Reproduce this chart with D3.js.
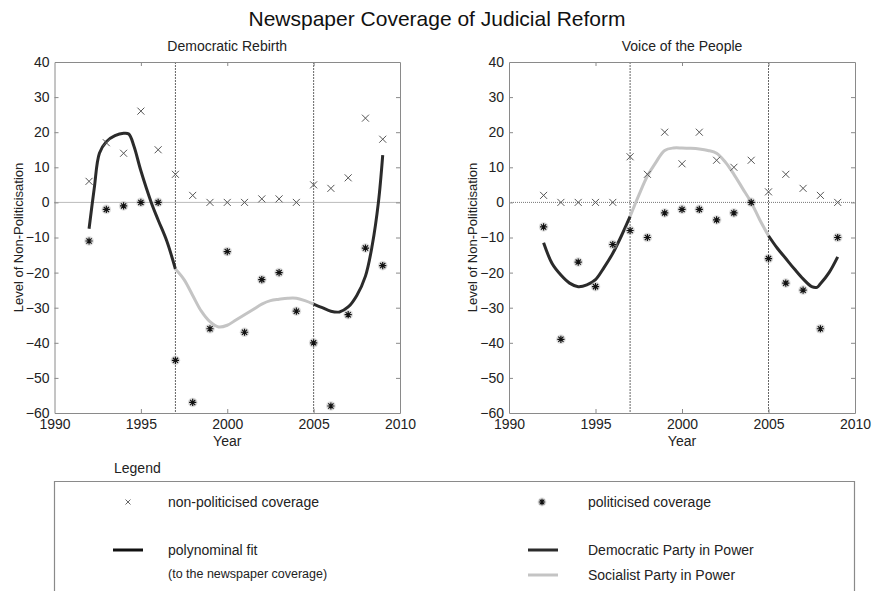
<!DOCTYPE html>
<html><head><meta charset="utf-8">
<script src="https://cdn.jsdelivr.net/npm/d3@7/dist/d3.min.js"></script>
<style>body{margin:0;background:#fff}svg{display:block;font-family:"Liberation Sans",Arial,sans-serif}</style>
</head><body><svg id="c" width="877" height="591"></svg>
<script>
const years = [1992,1993,1994,1995,1996,1997,1998,1999,2000,2001,2002,2003,2004,2005,2006,2007,2008,2009];
const demNonPol = [6,17,14,26,15,8,2,0,0,0,1,1,0,5,4,7,24,18];
const demPol = [-11,-2,-1,0,0,-45,-57,-36,-14,-37,-22,-20,-31,-40,-58,-32,-13,-18];
const voiceNonPol = [2,0,0,0,0,13,8,20,11,20,12,10,12,3,8,4,2,0];
const voicePol = [-7,-39,-17,-24,-12,-8,-10,-3,-2,-2,-5,-3,0,-16,-23,-25,-36,-10];

// polynomial fit (year, value), split by party in power
const demFitYears1 = [1992,1992.3,1992.6,1993,1993.5,1994,1994.3,1994.6,1995,1995.6,1996,1996.5,1997];
const demFitVals1  = [-7.5,4,14,17.3,19,19.7,19.5,16,9,0,-5,-11,-19];
const demFitYears2 = [1997,1997.5,1998,1998.5,1999,1999.5,2000,2000.5,2001,2001.5,2002,2002.5,2003,2003.5,2004,2004.5,2005];
const demFitVals2  = [-19,-22,-26.5,-31,-34,-35.5,-35,-33.5,-32,-30.5,-29,-28,-27.6,-27.3,-27.3,-28,-29];
const demFitYears3 = [2005,2005.5,2006,2006.5,2007,2007.5,2008,2008.4,2008.75,2009];
const demFitVals3  = [-29,-30,-31,-31.2,-29.8,-26.5,-21,-12,0,13.5];
const voiceFitYears1 = [1992,1992.5,1993,1993.5,1994,1994.5,1995,1995.5,1996,1996.5,1997];
const voiceFitVals1  = [-11.5,-17.5,-20.7,-23,-24,-23.5,-22,-18.5,-14.5,-9.5,-4];
const voiceFitYears2 = [1997,1997.5,1998,1998.5,1999,1999.5,2000,2000.5,2001,2001.5,2002,2002.5,2003,2003.5,2004,2004.5,2005];
const voiceFitVals2  = [-4,2,7.5,11.5,14.8,15.5,15.5,15.4,15.2,14.8,14,11.5,8,4,0,-5,-9.5];
const voiceFitYears3 = [2005,2005.5,2006,2006.5,2007,2007.5,2007.8,2008,2008.5,2009];
const voiceFitVals3  = [-9.5,-13,-16,-19,-21.8,-24,-24.2,-23.2,-20,-15.5];

const xTicks = [1990,1995,2000,2005,2010];
const yTicks = [-60,-50,-40,-30,-20,-10,0,10,20,30,40];
const governmentChanges = [1997,2005];
const titles = ["Democratic Rebirth","Voice of the People"];

const DARK = "#2b2b2b", LIGHT = "#c4c4c4";
const svg = d3.select("#c");
svg.append("rect").attr("width",877).attr("height",591).attr("fill","#fff");

svg.append("text").attr("x",437).attr("y",26).attr("text-anchor","middle")
  .attr("font-size",21).attr("fill","#111").text("Newspaper Coverage of Judicial Reform");

function zip(a,b){return a.map((v,i)=>[v,b[i]]);}

const panels = [
  {x0:54.5,x1:400,title:titles[0],nonPol:demNonPol,pol:demPol,
   fits:[[zip(demFitYears1,demFitVals1),DARK],[zip(demFitYears2,demFitVals2),LIGHT],[zip(demFitYears3,demFitVals3),DARK]]},
  {x0:509,x1:855,title:titles[1],nonPol:voiceNonPol,pol:voicePol,
   fits:[[zip(voiceFitYears1,voiceFitVals1),DARK],[zip(voiceFitYears2,voiceFitVals2),LIGHT],[zip(voiceFitYears3,voiceFitVals3),DARK]]}
];

const y = d3.scaleLinear().domain([-60,40]).range([413,62]);

function drawX(g,cx,cy,s,col){
  g.append("path").attr("d",`M${cx-s},${cy-s}L${cx+s},${cy+s}M${cx-s},${cy+s}L${cx+s},${cy-s}`)
   .attr("stroke",col).attr("stroke-width",1).attr("fill","none");
}
function drawStar(g,cx,cy,s){
  g.append("circle").attr("cx",cx).attr("cy",cy).attr("r",s+1.2).attr("fill","#bbb").attr("opacity",0.5);
  const d = s*0.72;
  g.append("path").attr("d",`M${cx},${cy-s}L${cx},${cy+s}M${cx-s},${cy}L${cx+s},${cy}M${cx-d},${cy-d}L${cx+d},${cy+d}M${cx-d},${cy+d}L${cx+d},${cy-d}`)
   .attr("stroke","#111").attr("stroke-width",1.2).attr("fill","none");
}

panels.forEach(p=>{
  const x = d3.scaleLinear().domain([1990,2010]).range([p.x0,p.x1]);
  const g = svg.append("g");
  const cx = (p.x0+p.x1)/2;
  g.append("text").attr("x",cx).attr("y",51).attr("text-anchor","middle").attr("font-size",14).attr("fill","#222").text(p.title);
  // zero line
  g.append("line").attr("x1",p.x0).attr("x2",p.x1).attr("y1",y(0)).attr("y2",y(0))
    .attr("stroke","#777").attr("stroke-width",1).attr("stroke-dasharray","1,1");
  // government change lines
  governmentChanges.forEach(yr=>{
    g.append("line").attr("x1",x(yr)).attr("x2",x(yr)).attr("y1",y(40)).attr("y2",y(-60))
      .attr("stroke","#666").attr("stroke-width",1).attr("stroke-dasharray","2,1");
  });
  // axes
  const ax = d3.axisBottom(x).tickValues(xTicks).tickFormat(d3.format("d")).tickSizeInner(-4).tickSizeOuter(0).tickPadding(8);
  const axT = d3.axisTop(x).tickValues(xTicks).tickFormat("").tickSizeInner(-4).tickSizeOuter(0);
  const ay = d3.axisLeft(y).tickValues(yTicks).tickSizeInner(-4).tickSizeOuter(0).tickPadding(5);
  const ayR = d3.axisRight(y).tickValues(yTicks).tickFormat("").tickSizeInner(-4).tickSizeOuter(0);
  const gx = g.append("g").attr("transform",`translate(0,${y(-60)})`).call(ax);
  const gxt = g.append("g").attr("transform",`translate(0,${y(40)})`).call(axT);
  const gy = g.append("g").attr("transform",`translate(${p.x0},0)`).call(ay);
  const gyr = g.append("g").attr("transform",`translate(${p.x1},0)`).call(ayR);
  [gx,gxt,gy,gyr].forEach(a=>{
    a.select(".domain").attr("stroke","#8a8a8a");
    a.selectAll(".tick line").attr("stroke","#8a8a8a");
    a.selectAll("text").attr("font-size",14).attr("fill","#222").attr("font-family","'Liberation Sans',Arial,sans-serif");
  });
  gx.selectAll(".tick text").attr("dy","0.55em");
  gx.selectAll(".tick line").filter(d=>d===1990||d===2010).remove();
  gxt.selectAll(".tick line").filter(d=>d===1990||d===2010).remove();
  gy.selectAll(".tick line").filter(d=>d===40||d===-60).remove();
  gyr.selectAll(".tick line").filter(d=>d===40||d===-60).remove();

  g.append("text").attr("x",cx).attr("y",446).attr("text-anchor","middle").attr("font-size",14).attr("fill","#222").text("Year");
  g.append("text").attr("transform",`translate(${p.x0-32},${(y(40)+y(-60))/2}) rotate(-90)`)
    .attr("text-anchor","middle").attr("font-size",13).attr("fill","#222").text("Level of Non-Politicisation");

  // fits
  const line = d3.line().x(d=>x(d[0])).y(d=>y(d[1])).curve(d3.curveCatmullRom.alpha(0.5));
  p.fits.forEach(([pts,col])=>{
    g.append("path").attr("d",line(pts)).attr("fill","none").attr("stroke",col).attr("stroke-width",3).attr("stroke-linejoin","round");
  });
  // markers
  years.forEach((yr,i)=>{
    drawX(g,x(yr),y(p.nonPol[i]),3.5,"#555");
    drawStar(g,x(yr),y(p.pol[i]),3.6);
  });
});

// legend
const lg = svg.append("g");
lg.append("text").attr("x",114).attr("y",473).attr("font-size",14).attr("fill","#222").text("Legend");
lg.append("path").attr("d","M54.5,600V481.5H854.5V600").attr("fill","none").attr("stroke","#8a8a8a").attr("stroke-width",1.2);
drawX(lg,128,502,2.5,"#666");
lg.append("text").attr("x",168).attr("y",507).attr("font-size",14).attr("fill","#222").text("non-politicised coverage");
drawStar(lg,542,502,3.2);
lg.append("text").attr("x",588).attr("y",507).attr("font-size",14).attr("fill","#222").text("politicised coverage");
lg.append("line").attr("x1",113).attr("x2",143).attr("y1",550).attr("y2",550).attr("stroke","#111").attr("stroke-width",3);
lg.append("text").attr("x",168).attr("y",555).attr("font-size",14).attr("fill","#222").text("polynominal fit");
lg.append("text").attr("x",168).attr("y",578).attr("font-size",12.5).attr("fill","#222").text("(to the newspaper coverage)");
lg.append("line").attr("x1",528).attr("x2",558).attr("y1",550).attr("y2",550).attr("stroke",DARK).attr("stroke-width",3);
lg.append("text").attr("x",588).attr("y",555).attr("font-size",14).attr("fill","#222").text("Democratic Party in Power");
lg.append("line").attr("x1",528).attr("x2",558).attr("y1",575).attr("y2",575).attr("stroke",LIGHT).attr("stroke-width",3);
lg.append("text").attr("x",588).attr("y",580).attr("font-size",14).attr("fill","#222").text("Socialist Party in Power");
</script></body></html>
